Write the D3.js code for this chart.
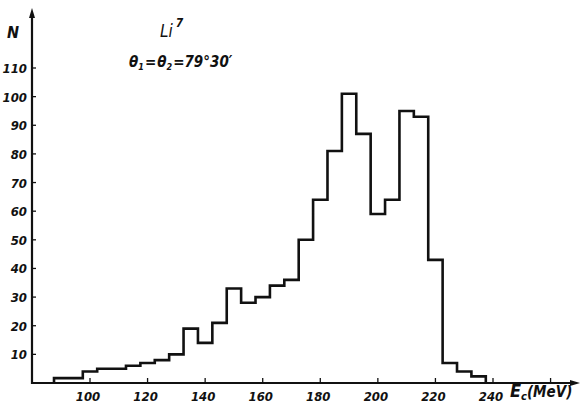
<!DOCTYPE html>
<html>
<head>
<meta charset="utf-8">
<script src="https://cdn.jsdelivr.net/npm/d3@7"></script>
<style>
  html, body { margin: 0; padding: 0; background: #fff; }
  svg { display: block; }
  text { font-family: "DejaVu Sans Condensed", "DejaVu Sans", sans-serif; font-style: oblique; fill: #111; }
</style>
</head>
<body>
<svg id="chart" width="581" height="406"></svg>
<script>
// ---- data ----
const binStart = [87.5, 92.5, 97.5, 102.5, 107.5, 112.5, 117.5, 122.5, 127.5, 132.5,
                  137.5, 142.5, 147.5, 152.5, 157.5, 162.5, 167.5, 172.5, 177.5, 182.5,
                  187.5, 192.5, 197.5, 202.5, 207.5, 212.5, 217.5, 222.5, 227.5, 232.5];
const binWidth = 5;
const counts = [1.7, 1.7, 4, 5, 5, 6, 7, 8, 10, 19,
                14, 21, 33, 28, 30, 34, 36, 50, 64, 81,
                101, 87, 59, 64, 95, 93, 43, 7, 4, 2.3];
const xTicks = [100, 120, 140, 160, 180, 200, 220, 240, 260];
const xTickLabels = ["100", "120", "140", "160", "180", "200", "220", "240", ""];
const yTicks = [10, 20, 30, 40, 50, 60, 70, 80, 90, 100, 110];

// ---- scales ----
const svg = d3.select("#chart");
const x = d3.scaleLinear().domain([100, 240]).range([90, 493]);
const y = d3.scaleLinear().domain([0, 110]).range([383, 68]);
const x0 = 32, y0 = y(0);

// axes lines
svg.append("line").attr("x1", x0).attr("x2", 572).attr("y1", y0).attr("y2", y0)
  .attr("stroke", "#111").attr("stroke-width", 2.2);
svg.append("line").attr("x1", x0).attr("x2", x0).attr("y1", y0 + 1).attr("y2", 16)
  .attr("stroke", "#111").attr("stroke-width", 2.2);
// arrowheads
svg.append("path").attr("d", `M${x0 - 3},18 L${x0},8 L${x0 + 3},18 Z`).attr("fill", "#111");
svg.append("path").attr("d", `M570,${y0 - 3} L580,${y0} L570,${y0 + 3} Z`).attr("fill", "#111");

// x ticks
const xt = svg.append("g");
xTicks.forEach((t, i) => {
  xt.append("line").attr("x1", x(t)).attr("x2", x(t)).attr("y1", y0).attr("y2", y0 - 5)
    .attr("stroke", "#111").attr("stroke-width", 1.3);
  if (xTickLabels[i]) {
    xt.append("text").attr("x", x(t) - 2).attr("y", 401).attr("text-anchor", "middle")
      .attr("font-size", 13).attr("font-weight", "bold").text(xTickLabels[i]);
  }
});

// y ticks
const yt = svg.append("g");
yTicks.forEach(t => {
  yt.append("line").attr("x1", x0).attr("x2", x0 + 4).attr("y1", y(t)).attr("y2", y(t))
    .attr("stroke", "#111").attr("stroke-width", 1.3);
  yt.append("text").attr("x", 27).attr("y", y(t) + 5).attr("text-anchor", "end")
    .attr("font-size", 13).attr("font-weight", "bold").text(t);
});

// histogram outline
const pts = [[x(binStart[0]), y(0)]];
binStart.forEach((b, i) => {
  pts.push([x(b), y(counts[i])]);
  pts.push([x(b + binWidth), y(counts[i])]);
});
pts.push([x(binStart[binStart.length - 1] + binWidth), y(0)]);
svg.append("path").attr("d", d3.line()(pts)).attr("fill", "none")
  .attr("stroke", "#111").attr("stroke-width", 2.6).attr("stroke-linejoin", "miter");

// labels
svg.append("text").attr("x", 7).attr("y", 38).attr("font-size", 16).attr("font-weight", "bold").text("N");
const li = svg.append("text").attr("x", 160).attr("y", 37).attr("font-size", 17);
li.append("tspan").text("Li");
li.append("tspan").attr("dy", -10).attr("font-size", 12).attr("dx", 3).attr("font-weight", "bold").text("7");

const th = svg.append("text").attr("x", 129).attr("y", 67).attr("font-size", 15).attr("font-weight", "bold");
th.append("tspan").text("θ");
th.append("tspan").attr("font-size", 9).attr("dy", 3).text("1");
th.append("tspan").attr("dy", -3).attr("dx", 1).text("=");
th.append("tspan").attr("dx", 1).text("θ");
th.append("tspan").attr("font-size", 9).attr("dy", 3).text("2");
th.append("tspan").attr("dy", -3).attr("dx", 1).text("=79°30′");

const ec = svg.append("text").attr("x", 510).attr("y", 397).attr("font-size", 18).attr("font-weight", "bold");
ec.append("tspan").text("E");
ec.append("tspan").attr("font-size", 11).attr("dy", 3).text("c");
ec.append("tspan").attr("dy", -3).attr("font-size", 15).text("(MeV)");
</script>
</body>
</html>
